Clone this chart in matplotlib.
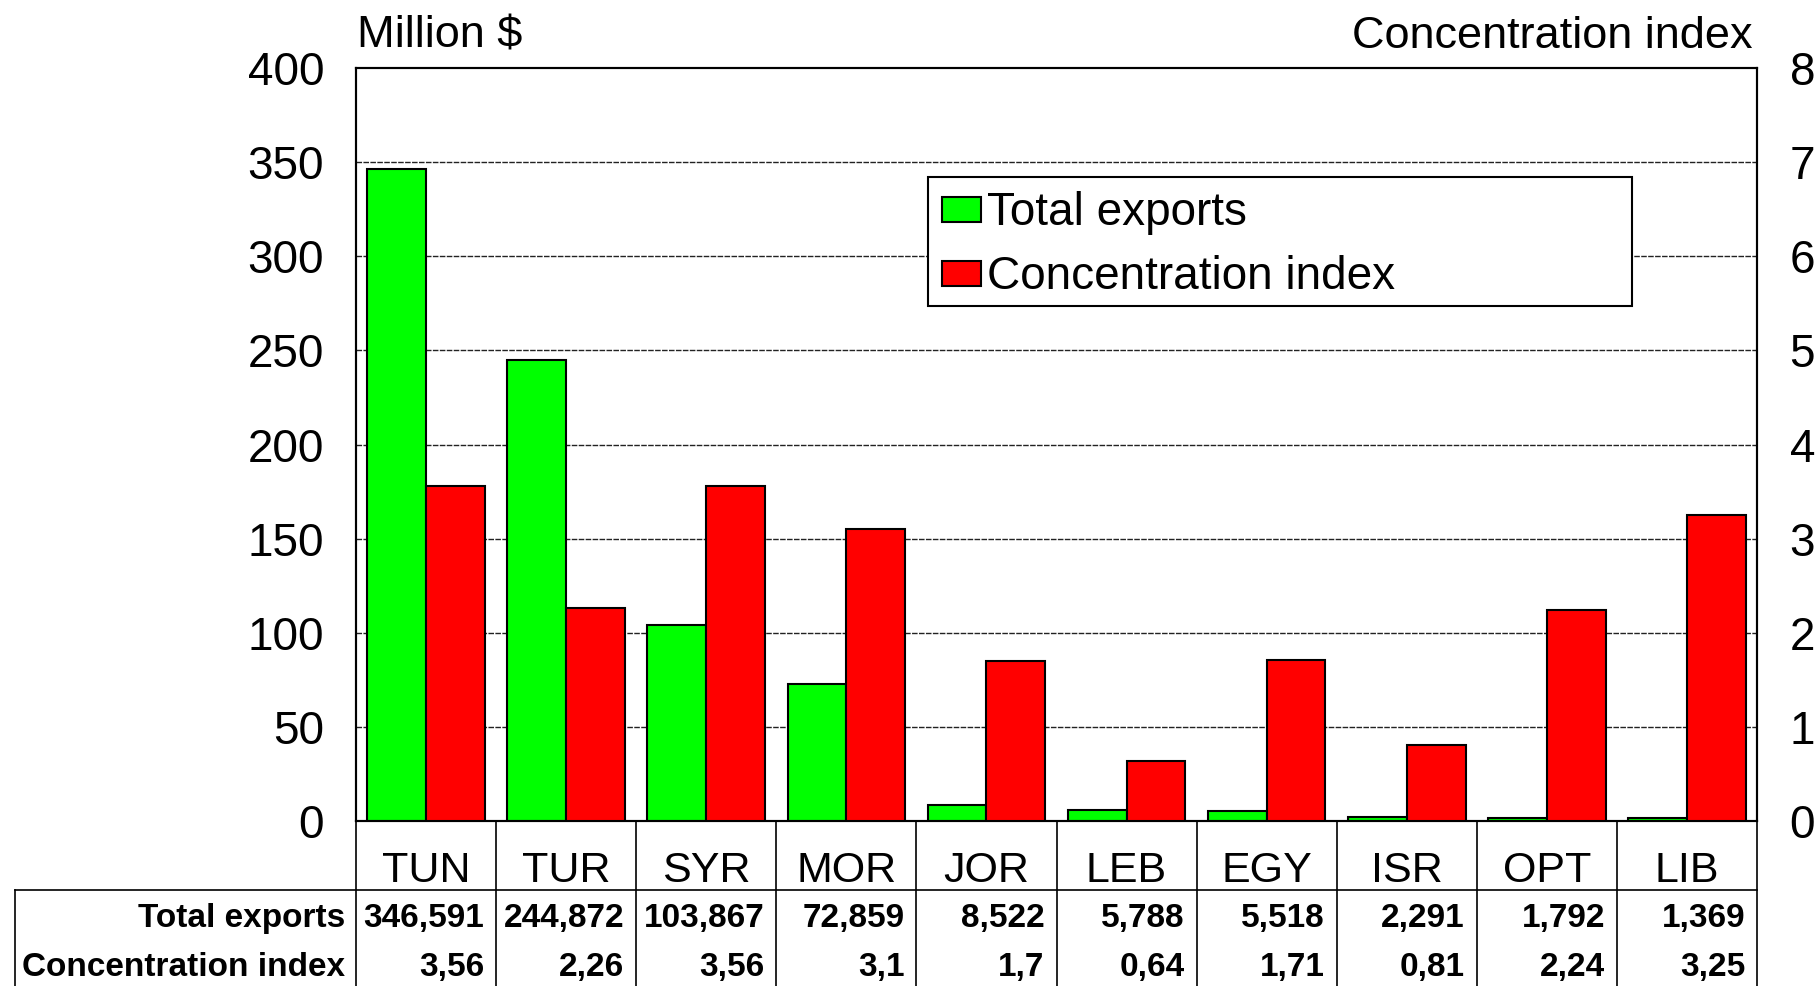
import matplotlib
matplotlib.use('Agg')
import matplotlib.pyplot as plt
from matplotlib import font_manager
from matplotlib.patches import Rectangle
import numpy as np

countries = ['TUN', 'TUR', 'SYR', 'MOR', 'JOR', 'LEB', 'EGY', 'ISR', 'OPT', 'LIB']
total_exports = [346.591, 244.872, 103.867, 72.859, 8.522, 5.788, 5.518, 2.291, 1.792, 1.369]
total_exports_labels = ['346,591', '244,872', '103,867', '72,859', '8,522',
                        '5,788', '5,518', '2,291', '1,792', '1,369']
conc_index = [3.56, 2.26, 3.56, 3.1, 1.7, 0.64, 1.71, 0.81, 2.24, 3.25]
conc_labels = ['3,56', '2,26', '3,56', '3,1', '1,7', '0,64', '1,71', '0,81', '2,24', '3,25']
left_ticks = [0, 50, 100, 150, 200, 250, 300, 350, 400]
right_ticks = [0, 1, 2, 3, 4, 5, 6, 7, 8]
row_labels = ['Total exports', 'Concentration index']
series_names = ['Total exports', 'Concentration index']
series_colors = ['#00FF00', '#FF0000']

names = {f.name for f in font_manager.fontManager.ttflist}
BASE = 'Liberation Sans' if 'Liberation Sans' in names else 'DejaVu Sans'
plt.rcParams['font.family'] = [BASE, 'DejaVu Sans']

W, H = 1818, 986
fig = plt.figure(figsize=(W / 100, H / 100), dpi=100)
L, R, T, B = 356, 1757, 68, 821
ax = fig.add_axes([L / W, 1 - B / H, (R - L) / W, (B - T) / H])
x = np.arange(len(countries))
bw = 0.42
ax.bar(x - bw / 2, total_exports, bw, color=series_colors[0], edgecolor='black', lw=1.5, zorder=3)
ax2 = ax.twinx()
ax2.bar(x + bw / 2, conc_index, bw, color=series_colors[1], edgecolor='black', lw=1.5, zorder=3)
ax.set_xlim(-0.5, 9.5)
ax.set_ylim(0, 400)
ax2.set_ylim(0, 8)
ax.set_xticks([])
ax.set_yticks(left_ticks)
ax.tick_params(axis='y', length=0, pad=23, labelsize=33)
ax2.set_yticks(right_ticks)
ax2.tick_params(axis='y', length=0, pad=23.5, labelsize=33)
for v in left_ticks[1:-1]:
    ax.axhline(v, color='#222222', lw=1.0, ls=(0, (4, 1)), zorder=1)
for a in (ax, ax2):
    for s in a.spines.values():
        s.set_linewidth(1.5)

fig.text(357 / W, 1 - 48 / H, 'Million $', ha='left', va='baseline', size=32.5)
fig.text(1753 / W, 1 - 48 / H, 'Concentration index', ha='right', va='baseline', size=32.5)

# legend box (figure pixel coordinates)
lax = fig.add_axes([0, 0, 1, 1], facecolor='none')
lax.set_xlim(0, W)
lax.set_ylim(H, 0)
lax.axis('off')
lax.add_patch(Rectangle((928, 177), 704, 129, facecolor='white', edgecolor='black', lw=1.5))
for i, (name, col) in enumerate(zip(series_names, series_colors)):
    y0 = 197 + 64 * i
    lax.add_patch(Rectangle((942, y0), 39, 25, facecolor=col, edgecolor='black', lw=1.5))
    lax.text(987, 225 + 64 * i, name, ha='left', va='baseline', size=33)

# table below
tax = fig.add_axes([L / W, 0, (R - L) / W, (H - B) / H])
tax.set_xlim(-0.5, 9.5)
tax.set_ylim(H - B, 0)
tax.axis('off')
unit = (R - L) / 10
xleft = (15 - L) / unit - 0.5
for k in range(11):
    tax.plot([k - 0.5, k - 0.5], [0, H - B], color='black', lw=1.2, clip_on=False)
tax.plot([xleft, 9.5], [69, 69], color='black', lw=1.2, clip_on=False)
tax.plot([xleft, xleft], [69, H - B], color='black', lw=1.2, clip_on=False)
for k, c in enumerate(countries):
    tax.text(k, 61, c, ha='center', va='baseline', size=31)
rows = [total_exports_labels, conc_labels]
ys = [106, 155]
for r, (lab, vals) in enumerate(zip(row_labels, rows)):
    tax.text((345 - L) / unit - 0.5, ys[r], lab, ha='right', va='baseline', size=24,
             weight='bold', clip_on=False)
    for k, v in enumerate(vals):
        tax.text(k + 0.5 - 0.085, ys[r], v, ha='right', va='baseline', size=24,
                 weight='bold')

fig.savefig('out.png', dpi=100)
